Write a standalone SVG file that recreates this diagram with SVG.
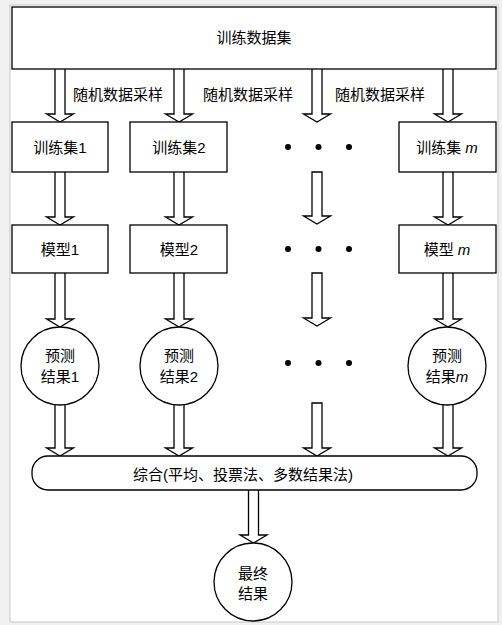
<svg xmlns="http://www.w3.org/2000/svg" width="502" height="625" viewBox="0 0 502 625">
<style>
.n{fill:#fff;stroke:#000;stroke-width:1.3}
.a{fill:#fff;stroke:#000;stroke-width:1.3;stroke-linejoin:miter}
.t{font-family:"Liberation Sans","Noto Sans CJK SC",sans-serif;font-size:15px;fill:#000;text-anchor:middle;dominant-baseline:central}
.i{font-family:"Liberation Sans",sans-serif;font-style:italic}
.d{fill:#000}
</style>
<rect x="0" y="0" width="502" height="625" fill="#f0f0f0"/>
<rect x="10" y="5" width="488" height="617" fill="#fff" stroke="#c8c8c8" stroke-width="1"/>
<g id="connectors">
<path class="a" d="M55,69 V114 H46.5 L60,122 L73.5,114 H65 V69"/>
<path class="a" d="M174,69 V114 H165.5 L179,122 L192.5,114 H184 V69"/>
<path class="a" d="M312,69 V114 H303.5 L317,122 L330.5,114 H322 V69"/>
<path class="a" d="M443,69 V114 H434.5 L448,122 L461.5,114 H453 V69"/>
<path class="a" d="M55,172 V217 H46.5 L60,225 L73.5,217 H65 V172"/>
<path class="a" d="M174,172 V217 H165.5 L179,225 L192.5,217 H184 V172"/>
<path class="a" d="M312,172 V216 H303.5 L317,224 L330.5,216 H322 V172 Z"/>
<path class="a" d="M443,172 V217 H434.5 L448,225 L461.5,217 H453 V172"/>
<path class="a" d="M55,273 V319 H46.5 L60,327 L73.5,319 H65 V273"/>
<path class="a" d="M174,273 V319 H165.5 L179,327 L192.5,319 H184 V273"/>
<path class="a" d="M312,273 V318 H303.5 L317,326 L330.5,318 H322 V273 Z"/>
<path class="a" d="M443,273 V319 H434.5 L448,327 L461.5,319 H453 V273"/>
<path class="a" d="M55,405 V448 H46.5 L60,456 L73.5,448 H65 V405"/>
<path class="a" d="M174,405 V448 H165.5 L179,456 L192.5,448 H184 V405"/>
<path class="a" d="M312,403 V448 H303.5 L317,456 L330.5,448 H322 V403 Z"/>
<path class="a" d="M443,405 V448 H434.5 L448,456 L461.5,448 H453 V405"/>
<path class="a" d="M248.5,490 V535 H240 L253.5,543 L267,535 H258.5 V490"/>
</g>
<g id="labels">
<text class="t" x="118" y="94">随机数据采样</text>
<text class="t" x="248" y="94">随机数据采样</text>
<text class="t" x="380" y="94">随机数据采样</text>
</g>
<g id="dataset"><rect class="n" x="12" y="7" width="484" height="62"/><text class="t" x="254" y="37">训练数据集</text></g>
<g id="train1"><rect class="n" x="12" y="122" width="96" height="50"/><text class="t" x="60" y="147">训练集1</text></g>
<g id="train2"><rect class="n" x="130" y="122" width="97" height="50"/><text class="t" x="179" y="147">训练集2</text></g>
<g id="trainm"><rect class="n" x="399" y="122" width="97" height="50"/><text class="t" x="447" y="147">训练集 <tspan class="i">m</tspan></text></g>
<g id="dots1"><circle class="d" cx="288" cy="147" r="3"/><circle class="d" cx="318.5" cy="147" r="3"/><circle class="d" cx="349" cy="147" r="3"/></g>
<g id="model1"><rect class="n" x="12" y="225" width="96" height="48"/><text class="t" x="60" y="249">模型1</text></g>
<g id="model2"><rect class="n" x="130" y="225" width="97" height="48"/><text class="t" x="179" y="249">模型2</text></g>
<g id="modelm"><rect class="n" x="399" y="225" width="97" height="48"/><text class="t" x="447" y="249">模型 <tspan class="i">m</tspan></text></g>
<g id="dots2"><circle class="d" cx="288" cy="249" r="3"/><circle class="d" cx="318.5" cy="249" r="3"/><circle class="d" cx="349" cy="249" r="3"/></g>
<g id="pred1"><circle class="n" cx="60" cy="366" r="39"/><text class="t" x="60" y="355">预测</text><text class="t" x="60" y="376">结果1</text></g>
<g id="pred2"><circle class="n" cx="179" cy="366" r="39"/><text class="t" x="179" y="355">预测</text><text class="t" x="179" y="376">结果2</text></g>
<g id="predm"><circle class="n" cx="447" cy="366" r="39"/><text class="t" x="447" y="355">预测</text><text class="t" x="447" y="376">结果<tspan class="i">m</tspan></text></g>
<g id="dots3"><circle class="d" cx="288" cy="363" r="3"/><circle class="d" cx="318.5" cy="363" r="3"/><circle class="d" cx="349" cy="363" r="3"/></g>
<g id="combine"><rect class="n" x="32" y="456" width="445" height="34" rx="16" ry="16"/><text class="t" x="243" y="474">综合(平均、投票法、多数结果法)</text></g>
<g id="final"><circle class="n" cx="253" cy="582" r="39"/><text class="t" x="253" y="573">最终</text><text class="t" x="253" y="593">结果</text></g>
</svg>
